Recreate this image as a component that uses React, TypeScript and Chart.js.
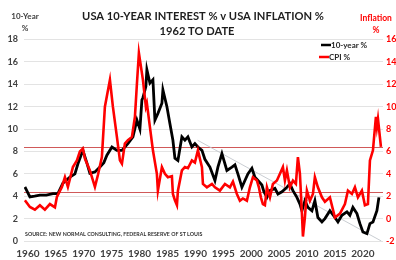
import { useEffect, useRef } from "react";
import { Chart, registerables } from "chart.js";

Chart.register(...registerables);

const TITLE_LINE_1 = "USA 10-YEAR INTEREST % v USA INFLATION %";
const TITLE_LINE_2 = "1962 TO DATE";
const SOURCE_TEXT = "SOURCE: NEW NORMAL CONSULTING, FEDERAL RESERVE OF ST LOUIS";

const YEAR_TICKS = [1960, 1965, 1970, 1975, 1980, 1985, 1990, 1995, 2000, 2005, 2010, 2015, 2020];

const TEN_YEAR_X = [
  1959.46, 1960.36, 1961.2, 1962.15, 1963.3, 1964.48, 1965.37, 1966.27, 1967.52, 1968.42, 1968.96, 1969.85,
  1970.57, 1971.1, 1972.0, 1972.9, 1973.6, 1974.15, 1975.05, 1975.94, 1976.84, 1977.91, 1978.81, 1979.52,
  1980.06, 1980.42, 1980.6, 1981.13, 1981.31, 1981.85, 1982.39, 1982.75, 1983.29, 1984.0, 1984.18, 1984.9,
  1985.43, 1985.97, 1986.33, 1986.87, 1987.58, 1988.12, 1988.66, 1989.37, 1989.91, 1990.45, 1991.17, 1991.7,
  1992.6, 1993.5, 1994.03, 1994.75, 1995.64, 1996.54, 1997.08, 1997.61, 1998.33, 1998.87, 1999.4, 2000.12,
  2000.66, 2001.2, 2001.91, 2002.27, 2002.81, 2003.35, 2004.24, 2004.78, 2005.5, 2006.39, 2006.93, 2007.47,
  2008.18, 2008.72, 2009.08, 2009.61, 2010.15, 2010.87, 2011.4, 2011.94, 2012.66, 2013.2, 2014.09, 2014.99,
  2015.53, 2016.24, 2017.14, 2017.67, 2018.21, 2018.93, 2019.47, 2020.0, 2020.72, 2021.26, 2021.8, 2022.51,
  2022.87,
];
const TEN_YEAR_Y = [
  4.83, 3.94, 4.0, 4.09, 4.1, 4.24, 4.24, 5.16, 5.7, 6.0, 6.9, 8.1,
  6.95, 6.05, 6.17, 6.6, 7.0, 7.66, 8.4, 8.1, 8.1, 8.7, 9.3, 10.8,
  10.0, 12.6, 12.8, 13.8, 15.3, 14.1, 14.4, 10.8, 11.4, 12.3, 13.5, 12.0,
  10.5, 9.0, 7.4, 7.2, 9.3, 9.0, 9.3, 8.4, 8.7, 8.4, 8.1, 7.3,
  6.6, 5.4, 6.6, 7.8, 6.3, 6.6, 6.8, 6.0, 4.8, 5.4, 6.0, 6.5,
  5.7, 5.4, 5.0, 4.4, 3.9, 4.5, 4.7, 4.2, 4.4, 4.8, 5.1, 4.5,
  3.9, 3.3, 2.7, 3.6, 3.0, 2.7, 3.6, 2.1, 1.7, 2.0, 2.7, 2.1,
  1.7, 2.3, 2.6, 2.3, 3.0, 2.45, 1.55, 0.8, 0.66, 1.55, 1.7, 2.7,
  3.9,
];

const CPI_X = [
  1959.46, 1960.36, 1961.25, 1962.15, 1963.04, 1963.94, 1964.84, 1965.19, 1966.09, 1966.63, 1967.16, 1968.06,
  1968.78, 1969.31, 1969.85, 1970.21, 1971.1, 1972.0, 1972.54, 1973.25, 1973.79, 1974.69, 1975.22, 1975.94,
  1976.48, 1976.84, 1977.37, 1977.91, 1978.63, 1979.17, 1979.52, 1979.88, 1980.42, 1980.6, 1981.13, 1981.31,
  1981.85, 1982.39, 1983.1, 1983.28, 1984.0, 1984.54, 1985.07, 1985.79, 1985.97, 1986.33, 1986.69, 1986.87,
  1987.58, 1988.12, 1988.66, 1989.37, 1989.91, 1990.45, 1991.17, 1991.35, 1992.06, 1992.96, 1993.5, 1994.39,
  1995.29, 1996.18, 1996.72, 1997.43, 1997.97, 1998.5, 1999.22, 1999.76, 2000.3, 2001.02, 2001.37, 2001.73,
  2002.09, 2002.45, 2002.81, 2003.35, 2003.88, 2004.6, 2005.14, 2005.67, 2006.03, 2006.39, 2006.93, 2007.47,
  2008.0, 2008.36, 2008.72, 2009.08, 2009.26, 2009.61, 2009.97, 2010.51, 2011.05, 2011.4, 2011.94, 2012.66,
  2013.2, 2014.09, 2014.99, 2015.89, 2016.78, 2017.32, 2018.03, 2018.57, 2019.11, 2019.82, 2020.36, 2020.9,
  2021.26, 2021.8, 2022.33, 2022.51, 2022.7, 2023.23,
];
const CPI_Y = [
  1.64, 1.04, 0.8, 1.2, 0.8, 1.3, 1.0, 1.94, 2.83, 3.7, 2.83, 4.6,
  5.2, 6.0, 6.26, 5.37, 4.3, 2.83, 3.9, 5.5, 10.0, 12.4, 10.0, 7.3,
  5.2, 4.9, 6.7, 7.0, 7.3, 9.1, 12.0, 14.8, 13.0, 12.4, 10.0, 10.3,
  8.2, 6.1, 4.0, 2.5, 4.6, 4.0, 3.7, 3.8, 2.2, 1.64, 1.2, 2.5,
  4.3, 4.6, 4.5, 5.2, 5.0, 6.1, 4.6, 3.1, 2.8, 3.1, 2.8, 2.5,
  3.1, 2.8, 3.3, 2.2, 1.6, 1.8, 1.6, 2.8, 3.7, 3.4, 2.8, 1.9,
  1.3, 1.2, 2.8, 1.9, 3.1, 3.4, 4.0, 4.6, 3.4, 4.3, 2.8, 3.4,
  3.1, 5.5, 4.0, 0.45, -1.6, 0.1, 2.5, 1.6, 2.2, 3.7, 2.8, 1.9,
  1.5, 1.9, 0.1, 0.45, 1.3, 2.5, 2.2, 2.8, 1.9, 2.5, 1.2, 1.3,
  5.2, 6.1, 9.1, 8.2, 8.9, 6.4,
];

// Thin horizontal reference lines (left-axis values) and grey trend line
const REF_LINES = [8.4, 4.4];
const TREND_X = [1990.4, 2023.3];
const TREND_Y = [9.0, 0];

const FONT = "Lato, 'Open Sans', 'DejaVu Sans', sans-serif";
const RED = "#ff0000";
const DARK = "#404040";

function zip(xs: number[], ys: number[]) {
  return xs.map((x, i) => ({ x, y: ys[i] }));
}

function fitText(ctx: CanvasRenderingContext2D, text: string, size: number, targetW: number) {
  ctx.font = `bold ${size}px ${FONT}`;
  const w = ctx.measureText(text).width;
  const s = (size * targetW) / w;
  ctx.font = `bold ${s}px ${FONT}`;
}

const decorPlugin = {
  id: "decor",
  beforeDatasetsDraw(chart: any) {
    const { ctx, chartArea, scales } = chart;
    ctx.save();
    ctx.strokeStyle = "rgba(200,60,60,0.85)";
    ctx.lineWidth = 1;
    REF_LINES.forEach((v) => {
      const y = Math.round(scales.y.getPixelForValue(v)) + 0.5;
      ctx.beginPath();
      ctx.moveTo(chartArea.left, y);
      ctx.lineTo(chartArea.right, y);
      ctx.stroke();
    });
    ctx.restore();
  },
  afterDraw(chart: any) {
    const { ctx, chartArea } = chart;
    ctx.save();
    ctx.textBaseline = "middle";
    ctx.textAlign = "center";
    ctx.fillStyle = "#1e1e1e";
    fitText(ctx, TITLE_LINE_1, 11.5, 242);
    ctx.fillText(TITLE_LINE_1, 203, 16);
    ctx.fillText(TITLE_LINE_2, 197, 31.5);

    ctx.fillStyle = DARK;
    ctx.font = `bold 8px ${FONT}`;
    ctx.fillText("10-Year", 25, 16);
    ctx.fillText("%", 25, 28.5);

    ctx.fillStyle = RED;
    ctx.font = `bold 8.5px ${FONT}`;
    ctx.fillText("Inflation", 376, 18.5);
    ctx.fillText("%", 376, 30);

    // legend
    const lx = chartArea.right - 62;
    ctx.lineWidth = 2.5;
    ctx.strokeStyle = "#000";
    ctx.beginPath();
    ctx.moveTo(lx, 45);
    ctx.lineTo(lx + 10, 45);
    ctx.stroke();
    ctx.strokeStyle = RED;
    ctx.beginPath();
    ctx.moveTo(lx - 2, 57);
    ctx.lineTo(lx + 8, 57);
    ctx.stroke();
    ctx.textAlign = "left";
    ctx.fillStyle = "#262626";
    ctx.font = `bold 8px ${FONT}`;
    ctx.fillText("10-year %", lx + 10, 45.5);
    ctx.fillText("CPI %", lx + 8, 57.5);

    // source
    ctx.fillStyle = "#333";
    fitText(ctx, SOURCE_TEXT, 5.5, 178);
    ctx.fillText(SOURCE_TEXT, chartArea.left + 1, 234);
    ctx.restore();
  },
};

export default function App() {
  const canvasRef = useRef<HTMLCanvasElement | null>(null);

  useEffect(() => {
    document.body.style.margin = "0";
    const canvas = canvasRef.current;
    if (!canvas) return;
    const chart = new Chart(canvas, {
      type: "line",
      data: {
        datasets: [
          {
            label: "CPI %",
            data: zip(CPI_X, CPI_Y),
            yAxisID: "y1",
            borderColor: RED,
            borderWidth: 2.6,
            pointRadius: 0,
            tension: 0,
            order: 1,
          },
          {
            label: "10-year %",
            data: zip(TEN_YEAR_X, TEN_YEAR_Y),
            yAxisID: "y",
            borderColor: "#000",
            borderWidth: 2.8,
            pointRadius: 0,
            tension: 0,
            order: 2,
          },
          {
            label: "trend",
            data: zip(TREND_X, TREND_Y),
            yAxisID: "y",
            borderColor: "rgba(195,200,205,0.9)",
            borderWidth: 1,
            pointRadius: 0,
            order: 3,
          },
        ],
      },
      options: {
        animation: false,
        responsive: false,
        layout: { padding: { top: 39.5, left: 0, right: 0, bottom: 0 } },
        plugins: { legend: { display: false }, tooltip: { enabled: false }, title: { display: false } },
        scales: {
          x: {
            type: "linear",
            min: 1959.3,
            max: 2023.6,
            afterBuildTicks: (axis: any) => {
              axis.ticks = YEAR_TICKS.map((v) => ({ value: v }));
            },
            afterFit: (s: any) => {
              s.height = 19;
            },
            grid: { display: false, drawTicks: false },
            border: { display: false },
            ticks: {
              autoSkip: false,
              maxRotation: 0,
              padding: 7,
              color: DARK,
              font: { family: FONT, size: 10, weight: "bold" },
              callback: (v: any) => String(v),
            },
          },
          y: {
            position: "left",
            min: 0,
            max: 18,
            afterFit: (s: any) => {
              s.width = 24;
            },
            grid: { color: "#e3e3e3", drawTicks: false },
            border: { display: false },
            ticks: { stepSize: 2, padding: 6, color: DARK, font: { family: FONT, size: 9, weight: "bold" } },
          },
          y1: {
            position: "right",
            min: -2,
            max: 16,
            afterFit: (s: any) => {
              s.width = 13;
            },
            grid: { display: false, drawTicks: false },
            border: { display: false },
            ticks: { stepSize: 2, padding: 3, color: RED, font: { family: FONT, size: 9, weight: "bold" } },
          },
        },
      } as any,
      plugins: [decorPlugin],
    });
    return () => chart.destroy();
  }, []);

  return (
    <div style={{ width: 396, height: 260, background: "#fff" }}>
      <canvas ref={canvasRef} width={396} height={260} style={{ display: "block" }} />
    </div>
  );
}
